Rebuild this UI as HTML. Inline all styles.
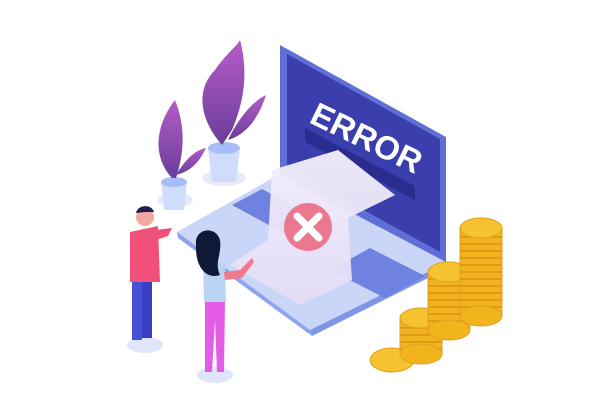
<!DOCTYPE html>
<html><head><meta charset="utf-8"><style>body{margin:0;background:#fff}svg{display:block}</style></head><body>
<svg width="614" height="406" viewBox="0 0 614 406" xmlns="http://www.w3.org/2000/svg">
<defs>
<linearGradient id="leaf" x1="0" y1="0" x2="0" y2="1"><stop offset="0" stop-color="#b55cc8"/><stop offset="1" stop-color="#6a3d9a"/></linearGradient>
<linearGradient id="paper" x1="0" y1="0" x2="0" y2="1"><stop offset="0" stop-color="#f4f0fb"/><stop offset="1" stop-color="#e4dcf6"/></linearGradient>
<pattern id="stripes" width="10" height="7" patternUnits="userSpaceOnUse"><rect width="10" height="7" fill="#f1b41f"/><rect y="5" width="10" height="2" fill="#e09a18"/></pattern>
</defs>
<ellipse cx="145" cy="345" rx="18" ry="8" fill="#dfe6fb"/>
<ellipse cx="215" cy="375" rx="18" ry="8" fill="#dfe6fb"/>
<polygon points="177,232 280,174 448,262 310,330" fill="#c9d6f7"/>
<polygon points="177,232 310,330 312,336 178,238" fill="#8ea3ee"/>
<polygon points="310,330 448,262 448,268 312,336" fill="#7f95e6"/>
<polygon points="232,205 262,189 330,225 300,242" fill="#6f82e0"/>
<polygon points="330,270 370,248 425,276 385,298" fill="#6f82e0"/>
<polygon points="280,45 446,137 446,262 280,175" fill="#5f6fd6"/>
<polygon points="287,54 440,139 440,252 287,168" fill="#3b3fae"/>
<text x="308" y="122" font-family="Liberation Sans, sans-serif" font-weight="bold" font-size="33" fill="#fff" transform="rotate(26 308 122)">ERROR</text>
<polygon points="305,128 415,186 415,200 305,142" fill="#2a2d8f"/>
<polygon points="272,170 338,150 395,195 348,218 352,280 300,305 230,265 268,240" fill="url(#paper)" opacity="0.95"/>
<circle cx="308" cy="227" r="24" fill="#ea7990"/>
<path d="M297 216 L319 238 M319 216 L297 238" stroke="#fff" stroke-width="7" stroke-linecap="round"/>
<ellipse cx="224" cy="178" rx="22" ry="8" fill="#e6ebfb"/>
<path d="M208 148 L240 148 L236 182 L212 182 Z" fill="#cfdcfb"/>
<ellipse cx="224" cy="148" rx="16" ry="6" fill="#a7bdf5"/>
<path d="M222 145 C200 120 195 90 215 70 C225 55 238 45 240 40 C248 70 245 100 232 130 Z" fill="url(#leaf)"/>
<path d="M228 140 C240 115 255 100 266 95 C258 120 245 135 228 140 Z" fill="url(#leaf)"/>
<ellipse cx="175" cy="200" rx="18" ry="7" fill="#e6ebfb"/>
<path d="M161 182 L187 182 L184 210 L164 210 Z" fill="#cfdcfb"/>
<ellipse cx="174" cy="182" rx="13" ry="5" fill="#a7bdf5"/>
<path d="M172 178 C155 160 152 130 175 100 C185 125 185 150 176 178 Z" fill="url(#leaf)"/>
<path d="M176 175 C185 160 195 150 206 148 C198 165 188 172 176 175 Z" fill="url(#leaf)"/>
<rect x="132" y="278" width="10" height="62" fill="#4a4fd8"/>
<rect x="142" y="278" width="10" height="60" fill="#3a3ec2"/>
<path d="M130 232 L158 226 L160 282 L130 282 Z" fill="#f0507a"/>
<path d="M155 230 L172 228 L168 236 L156 240 Z" fill="#f0507a"/>
<circle cx="145" cy="217" r="9" fill="#f1a8a0"/>
<path d="M136 213 C138 204 152 204 154 212 L145 212 Z" fill="#1a1f4f"/>
<path d="M205 300 L225 300 L224 372 L217 372 L215 320 L212 372 L205 372 Z" fill="#e45ce6"/>
<path d="M203 262 L225 262 L226 302 L204 302 Z" fill="#b9d4f4"/>
<path d="M224 272 L240 270 L252 258 L254 262 L242 278 L225 280 Z" fill="#f2788b"/>
<path d="M196 245 C194 228 216 225 220 240 C222 255 214 262 220 275 C205 280 195 265 196 245 Z" fill="#101838"/>
<g stroke="#e0a21c" stroke-width="1">
<ellipse cx="392" cy="360" rx="22" ry="12" fill="#f5c230"/>
<rect x="400" y="318" width="42" height="36" fill="url(#stripes)"/><ellipse cx="421" cy="354" rx="21" ry="10" fill="#f1b41f"/><ellipse cx="421" cy="318" rx="21" ry="10" fill="#f5c230"/>
<rect x="428" y="272" width="42" height="58" fill="url(#stripes)"/><ellipse cx="449" cy="330" rx="21" ry="10" fill="#f1b41f"/><ellipse cx="449" cy="272" rx="21" ry="10" fill="#f5c230"/>
<rect x="460" y="228" width="42" height="88" fill="url(#stripes)"/><ellipse cx="481" cy="316" rx="21" ry="10" fill="#f1b41f"/><ellipse cx="481" cy="228" rx="21" ry="10" fill="#f5c230"/>
</g>
</svg>
</body></html>
